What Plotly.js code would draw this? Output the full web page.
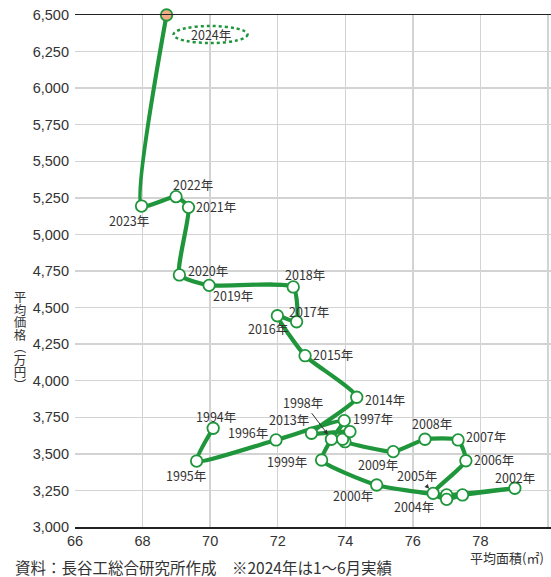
<!DOCTYPE html>
<html>
<head>
<meta charset="utf-8">
<script src="https://cdn.plot.ly/plotly-3.0.1.min.js"></script>
<style>
  html, body { margin: 0; padding: 0; background: #fff; }
  #chart { width: 551px; height: 577px; }
</style>
</head>
<body>
<div id="chart"></div>
<script>
// 新築マンション：平均面積（㎡）と平均価格（万円）の推移
const years = [1994, 1995, 1996, 1997, 1998, 1999, 2000, 2001, 2002, 2003,
               2004, 2005, 2006, 2007, 2008, 2009, 2010, 2011, 2012, 2013,
               2014, 2015, 2016, 2017, 2018, 2019, 2020, 2021, 2022, 2023, 2024];
const avgArea = [70.09, 69.60, 71.95, 73.97, 73.59, 73.30, 74.93, 77.00, 79.02, 77.47,
                 77.00, 76.60, 77.57, 77.34, 76.36, 75.42, 73.99, 73.92, 74.14, 73.00,
                 74.34, 72.81, 71.99, 72.56, 72.46, 69.97, 69.09, 69.36, 68.99, 67.97, 68.71];
const avgPrice = [3675, 3451, 3595, 3727, 3600, 3458, 3287, 3219, 3265, 3219,
                  3189, 3230, 3453, 3595, 3600, 3515, 3583, 3600, 3652, 3641,
                  3887, 4171, 4444, 4403, 4641, 4652, 4723, 5185, 5258, 5194, 6500];

const xTicks = [66, 68, 70, 72, 74, 76, 78, 80];
const yTitle = '平均価格（万円）';
const xTitle = '平均面積(㎡)';
const sourceNote = '資料：長谷工総合研究所作成　※2024年は1〜6月実績';

// label placement: [dx, dy] pixel offset of the label centre from its point,
// a third entry of true draws a leader arrow to the point
const labelPlace = {
  1994: [3, -12], 1995: [-11, 14], 1996: [-28, -7], 1997: [29, -2],
  1998: [-28, -37, true], 1999: [-35, 1], 2000: [-24, 10], 2002: [0, -11],
  2004: [-33, 7], 2005: [-16, -18, true], 2006: [28, -1], 2007: [28, -3],
  2008: [7, -16], 2009: [-15, 13], 2013: [-22, -14, true], 2014: [28, 2],
  2015: [28, -1], 2016: [-9, 13], 2017: [12, -10], 2018: [12, -12],
  2019: [24, 10], 2020: [29, -4], 2021: [27, -1], 2022: [17, -12],
  2023: [-13, 14], 2024: [44, 19]
};

const GREEN = '#1f963b';
const TEXT = '#333333';
const JP = '"Noto Sans CJK JP", "Noto Sans", sans-serif';
const NUM = '"Liberation Sans", Arial, sans-serif';

const last = years.length - 1;
const fillColors = years.map((y, i) => i === last ? '#f3aa86' : '#ffffff');

const trace = {
  type: 'scatter',
  mode: 'lines+markers',
  x: avgArea,
  y: avgPrice,
  text: years.map(y => y + '年'),
  hoverinfo: 'text+x+y',
  cliponaxis: false,
  line: { color: GREEN, width: 4.2, shape: 'spline', smoothing: 0.5 },
  marker: { size: 11.5, color: fillColors, line: { color: GREEN, width: 1.8 } }
};

const annotations = [];
years.forEach((yr, i) => {
  const p = labelPlace[yr];
  if (!p) return;
  const a = {
    x: avgArea[i], y: avgPrice[i], xref: 'x', yref: 'y',
    text: yr + '年',
    font: { family: JP, size: 12.5, color: TEXT }
  };
  if (p[2]) {
    Object.assign(a, {
      showarrow: true, ax: p[0], ay: p[1], axref: 'pixel', ayref: 'pixel',
      arrowhead: 2, arrowsize: 0.9, arrowwidth: 1, arrowcolor: TEXT, standoff: 6
    });
  } else {
    Object.assign(a, { showarrow: false, xshift: p[0], yshift: -p[1] });
  }
  annotations.push(a);
});

const plotTop = 15, plotH = 512, plotLeft = 75, plotW = 476;
const toPaperX = px => (px - plotLeft) / plotW;
const toPaperY = py => (plotTop + plotH - py) / plotH;

// y-axis title: set vertically (縦書き) once the plot is drawn
const yTitleCentre = [20, 341];
annotations.push({
  xref: 'paper', yref: 'paper', x: toPaperX(yTitleCentre[0]), y: toPaperY(yTitleCentre[1]),
  text: yTitle, showarrow: false, xanchor: 'center', yanchor: 'middle',
  font: { family: JP, size: 12.5, color: TEXT }
});

annotations.push({
  xref: 'paper', yref: 'paper', x: toPaperX(468), y: toPaperY(557),
  text: xTitle, showarrow: false, xanchor: 'left', yanchor: 'middle',
  font: { family: JP, size: 13, color: TEXT }
});
annotations.push({
  xref: 'paper', yref: 'paper', x: toPaperX(13), y: toPaperY(567),
  text: sourceNote, showarrow: false, xanchor: 'left', yanchor: 'middle',
  font: { family: JP, size: 15.5, color: TEXT }
});

const layout = {
  width: 551, height: 577,
  margin: { l: plotLeft, r: 0, t: plotTop, b: 577 - plotTop - plotH },
  paper_bgcolor: '#ffffff', plot_bgcolor: '#ffffff',
  showlegend: false,
  font: { family: JP, color: TEXT },
  xaxis: {
    range: [66, 80.09], tickvals: xTicks, ticktext: xTicks.map(String),
    showgrid: true, gridcolor: '#d3d3d3', gridwidth: 1.5,
    showline: true, mirror: true, linecolor: '#222222', linewidth: 1.5,
    zeroline: false, ticks: '', ticklabelstandoff: 0,
    tickfont: { family: NUM, size: 14.5, color: TEXT }
  },
  yaxis: {
    range: [3000, 6500], dtick: 250, tick0: 3000, tickformat: ',d',
    showgrid: true, gridcolor: '#d3d3d3', gridwidth: 1.5,
    showline: false, zeroline: false, ticks: '', ticklabelstandoff: 5,
    tickfont: { family: NUM, size: 14.5, color: TEXT }
  },
  shapes: [{
    type: 'circle', xref: 'x', yref: 'y',
    xsizemode: 'pixel', ysizemode: 'pixel',
    xanchor: avgArea[last], yanchor: avgPrice[last],
    x0: 7, x1: 81, y0: -28, y1: -11,
    line: { color: GREEN, width: 2.5, dash: 'dot' }
  }],
  annotations: annotations
};

Plotly.newPlot('chart', [trace], layout, { displayModeBar: false, staticPlot: true })
  .then(gd => {
    const host = gd.getBoundingClientRect();
    gd.querySelectorAll('text.annotation-text').forEach(t => {
      if (t.getAttribute('data-unformatted') !== yTitle) return;
      t.style.writingMode = 'vertical-rl';
      t.style.textOrientation = 'mixed';
      t.setAttribute('text-anchor', 'middle');
      const r = t.getBoundingClientRect();
      const dx = yTitleCentre[0] - (r.left - host.left + r.width / 2);
      const dy = yTitleCentre[1] - (r.top - host.top + r.height / 2);
      t.setAttribute('transform', 'translate(' + dx.toFixed(1) + ',' + dy.toFixed(1) + ')');
    });
  });
</script>
</body>
</html>
